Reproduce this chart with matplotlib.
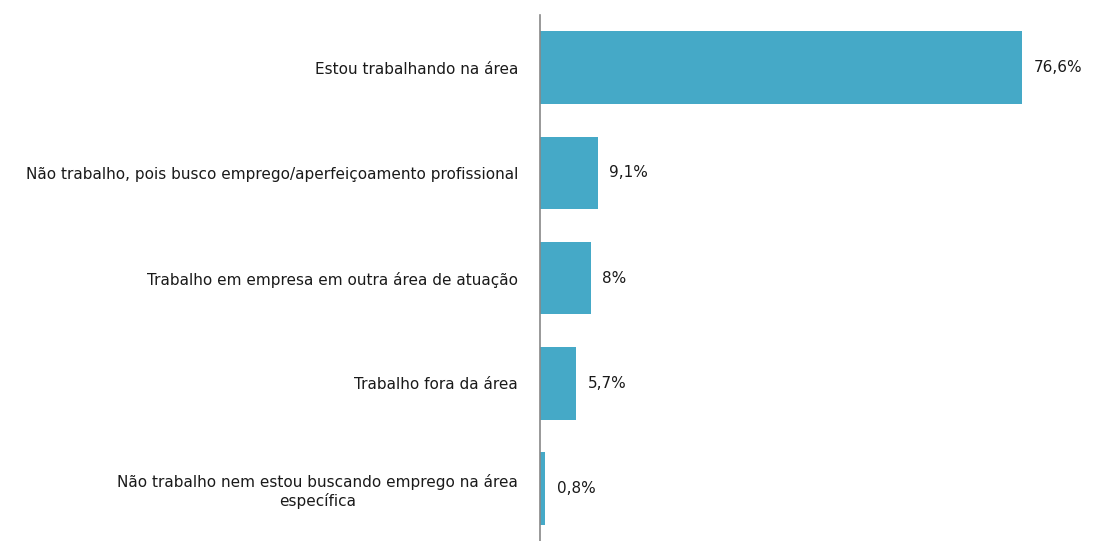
import numpy as np
import matplotlib.pyplot as plt

#** DADOS **
categorias = [
    "Estou trabalhando na área",
    "Não trabalho, pois busco emprego/aperfeiçoamento profissional",
    "Trabalho em empresa em outra área de atuação",
    "Trabalho fora da área",
    "Não trabalho nem estou buscando emprego na área\nespecífica",
]
valores = [76.6, 9.1, 8.0, 5.7, 0.8]
rotulos = ["76,6%", "9,1%", "8%", "5,7%", "0,8%"]

cor_barra = "#45A9C7"

fig = plt.figure(figsize=(11.14, 5.41), dpi=100)
ax = fig.add_axes([0.485, 0.0, 0.508, 0.972])

pos = np.arange(len(categorias))
ax.barh(pos, valores, height=0.69, color=cor_barra)
ax.set_ylim(len(categorias) - 0.5, -0.5)
ax.set_xlim(0, 90)

for p, v, r in zip(pos, valores, rotulos):
    ax.text(v + 1.8, p, r, va="center", ha="left", fontsize=11, color="#1a1a1a")

ax.set_yticks(pos)
ax.set_yticklabels(categorias, fontsize=11, color="#1a1a1a")
for t in ax.get_yticklabels():
    t.set_multialignment("center")
ax.tick_params(axis="y", length=0, pad=16)
ax.set_xticks([])

for lado in ["top", "right", "bottom"]:
    ax.spines[lado].set_visible(False)
ax.spines["left"].set_color("#888888")
ax.spines["left"].set_linewidth(1.2)

fig.savefig("out.png", dpi=100)
